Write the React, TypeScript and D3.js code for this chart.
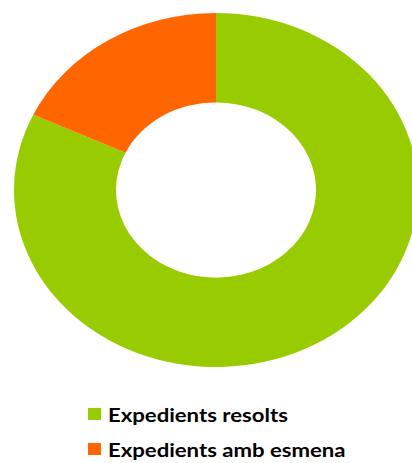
import React from "react";
import * as d3 from "d3";

const categories = ["Expedients resolts", "Expedients amb esmena"];
const values = [82, 18];
const colors = ["#99CC00", "#FF6600"];

const W = 412;
const H = 463;
const cx = 216;
const cy = 190;
const rx = 202;
const ry = 177;
const innerR = 100;

export default function App() {
  const pie = d3.pie<number>().sort(null).value((d) => d);
  const arcs = pie(values);
  const arc = d3.arc<d3.PieArcDatum<number>>().innerRadius(innerR).outerRadius(rx);
  return (
    <svg width={W} height={H} style={{ position: "absolute", left: 0, top: 0 }}>
      <rect width={W} height={H} fill="#fff" />
      <g transform={`translate(${cx},${cy}) scale(1,${ry / rx})`}>
        {arcs.map((a, i) => (
          <path key={i} d={arc(a) || ""} fill={colors[i]} />
        ))}
      </g>
      {categories.map((c, i) => (
        <g key={c} transform={`translate(88,${408 + i * 35})`}>
          <rect width={13} height={12} fill={colors[i]} />
          <g transform="translate(20,14) scale(1.23,1)">
            <text x={0} y={0} fontFamily="Lato, 'DejaVu Sans', sans-serif" fontWeight="bold" fontSize={18} fill="#000">
              {c}
            </text>
          </g>
        </g>
      ))}
    </svg>
  );
}
